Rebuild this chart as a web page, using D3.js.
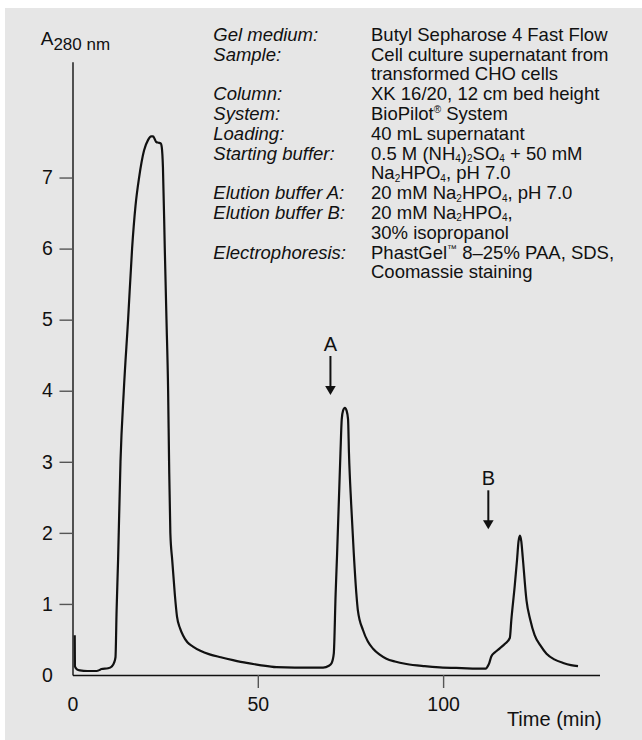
<!DOCTYPE html>
<html><head><meta charset="utf-8">
<script src="https://cdn.jsdelivr.net/npm/d3@7"></script>
<style>body{margin:0;background:#fff}svg{display:block;font-family:"Liberation Sans",Arial,Helvetica,sans-serif}</style>
</head><body><svg id="c" width="642" height="740"></svg>
<script>
// ---- data ----
const time = [0.6,0.65,1.2,2,4,6.5,7.3,7.8,9.6,10.6,11.2,11.6,11.9,12.3,12.95,13.84,15.0,16.08,17.0,17.97,19.3,20.4,21.2,21.74,22.2,22.6,23.2,23.8,24.1,24.4,24.9,25.36,25.8,26.06,26.4,26.9,27.6,28.2,29.0,29.8,31,32.5,34.5,37,40,43.3,47,50.5,55,60,67.6,69.2,69.9,70.5,71.0,71.4,72.3,72.65,73.0,73.5,73.95,74.35,74.6,75.2,75.9,76.6,77.0,78.4,79.7,81.1,82.8,84.7,87,90.1,95,99.1,105,111.2,111.7,112.0,112.4,113.0,114,115.3,116.7,118.0,118.4,119.3,119.95,120.35,120.74,121.1,121.5,122.5,123.5,124.7,126.2,127.9,130,132.4,134.5,136.4];
const absorbance = [0.56,0.12,0.08,0.065,0.056,0.056,0.07,0.085,0.095,0.12,0.17,0.25,0.91,1.62,3.0,4.0,5.0,6.0,6.6,7.0,7.38,7.53,7.58,7.58,7.54,7.5,7.49,7.48,7.42,7.15,6.0,5.0,4.0,3.0,2.0,1.62,1.14,0.82,0.66,0.56,0.46,0.40,0.34,0.29,0.25,0.21,0.17,0.14,0.11,0.105,0.105,0.13,0.165,0.30,1.14,1.71,3.12,3.6,3.72,3.76,3.72,3.6,3.12,2.4,1.71,1.14,0.91,0.63,0.47,0.37,0.29,0.23,0.19,0.155,0.125,0.108,0.097,0.089,0.095,0.12,0.16,0.26,0.32,0.375,0.44,0.52,0.77,1.24,1.62,1.88,1.96,1.88,1.65,1.05,0.78,0.56,0.42,0.30,0.22,0.17,0.14,0.125];
const xTicks = [0,50,100];
const yTicks = [0,1,2,3,4,5,6,7];
const arrowLabels = ["A","B"];
const arrowTime = [69.6,112.2];
const arrowTip = [3.94,2.05];
const infoLabels = ["Gel medium:","Sample:","","Column:","System:","Loading:","Starting buffer:","","Elution buffer A:","Elution buffer B:","","Electrophoresis:",""];
const infoValues = ["Butyl Sepharose 4 Fast Flow","Cell culture supernatant from","transformed CHO cells","XK 16/20, 12 cm bed height","BioPilot^{®} System","40 mL supernatant","0.5 M (NH_{4})_{2}SO_{4} + 50 mM","Na_{2}HPO_{4}, pH 7.0","20 mM Na_{2}HPO_{4}, pH 7.0","20 mM Na_{2}HPO_{4},","30% isopropanol","PhastGel^{™} 8–25% PAA, SDS,","Coomassie staining"];

// ---- drawing ----
const svg = d3.select("#c");
const ink = "#111";
svg.append("rect").attr("x",5).attr("y",8).attr("width",637).attr("height",732).attr("fill","#e6e6e6");

const x = d3.scaleLinear().domain([0,142.2]).range([72.5,599.5]);
const y = d3.scaleLinear().domain([0,8.63]).range([675,61.7]);

const gx = svg.append("g").attr("transform","translate(0,675)")
  .call(d3.axisBottom(x).tickValues(xTicks).tickSize(13).tickSizeOuter(0).tickPadding(9).tickFormat(d3.format("d")));
const gy = svg.append("g").attr("transform","translate(72.5,0)")
  .call(d3.axisLeft(y).tickValues(yTicks).tickSize(13).tickSizeOuter(0).tickPadding(6.6).tickFormat(d3.format("d")));
[gx,gy].forEach(g=>{
  g.select(".domain").attr("stroke",ink).attr("stroke-width",1.4);
  g.selectAll(".tick line").attr("stroke","#555").attr("stroke-width",1.4).filter(d=>d===0).remove();
  g.selectAll(".tick text").attr("fill",ink).style("font-size","19.5px").style("font-family","'Liberation Sans',Arial,sans-serif");
});

// curve
const pts = time.map((t,i)=>[t,absorbance[i]]);
svg.append("path").datum(pts)
  .attr("d", d3.line().x(d=>x(d[0])).y(d=>y(d[1])).curve(d3.curveMonotoneX))
  .attr("fill","none").attr("stroke",ink).attr("stroke-width",2.2).attr("stroke-linejoin","round");

// arrows
arrowLabels.forEach((lab,i)=>{
  const ax = x(arrowTime[i]), ty = y(arrowTip[i]);
  svg.append("line").attr("x1",ax).attr("x2",ax).attr("y1",ty-39).attr("y2",ty-8)
    .attr("stroke",ink).attr("stroke-width",2);
  svg.append("path").attr("d",`M${ax-5.3},${ty-9}L${ax+5.3},${ty-9}L${ax},${ty}Z`).attr("fill",ink);
  svg.append("text").attr("x",ax).attr("y",ty-44).attr("text-anchor","middle")
    .style("font-size","20px").attr("fill",ink).text(lab);
});

// axis labels
const yl = svg.append("text").attr("x",40.7).attr("y",45).attr("fill",ink).style("font-size","19px");
yl.append("tspan").text("A");
yl.append("tspan").attr("dy",5).style("font-size","17px").text("280 nm");
svg.append("text").attr("x",601.7).attr("y",726).attr("text-anchor","end").attr("fill",ink)
  .style("font-size","20px").text("Time (min)");

// info block
function rich(sel, str){
  const re = /([_^])\{([^}]*)\}/g;
  let last = 0, m, shift = 0;
  while((m = re.exec(str))){
    if(m.index>last){ sel.append("tspan").attr("dy",-shift).text(str.slice(last,m.index)); shift=0; }
    const d = m[1]==="_" ? 2.5 : -7;
    sel.append("tspan").attr("dy",d-shift).style("font-size", m[1]==="_" ? "10px" : "10px").text(m[2]);
    shift = d; last = re.lastIndex;
  }
  if(last<str.length){ sel.append("tspan").attr("dy",-shift).text(str.slice(last)); }
}
infoValues.forEach((v,i)=>{
  const by = 40.7 + i*19.8;
  if(infoLabels[i]) svg.append("text").attr("x",213.3).attr("y",by).attr("fill",ink)
     .style("font-size","18.5px").style("font-style","italic").text(infoLabels[i]);
  const t = svg.append("text").attr("x",371).attr("y",by).attr("fill",ink).style("font-size","18.5px");
  rich(t, v);
});
</script></body></html>
